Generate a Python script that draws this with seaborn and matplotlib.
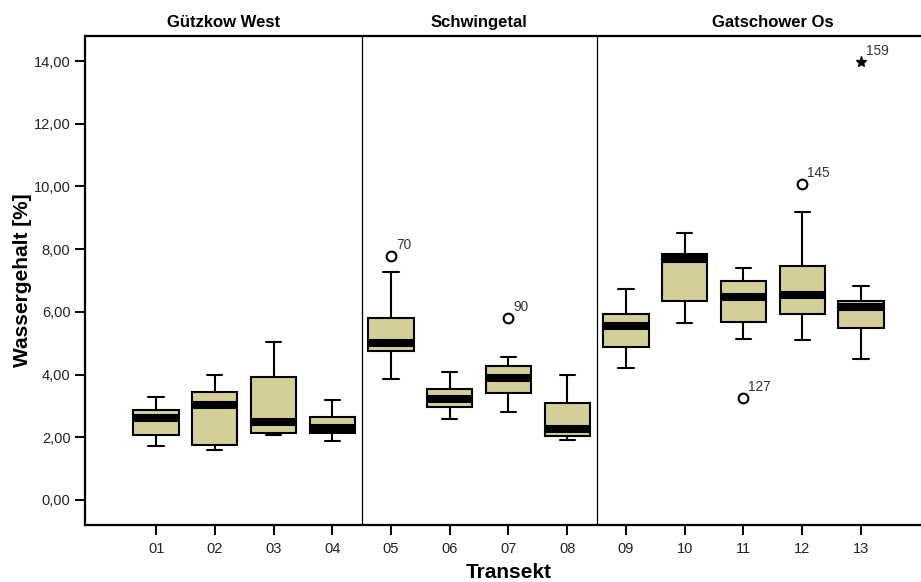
import numpy as np
import pandas as pd
import matplotlib
matplotlib.use("Agg")
import matplotlib.pyplot as plt
import seaborn as sns

# Five-number summaries of water content per transect
transekt = ["01", "02", "03", "04", "05", "06", "07", "08", "09", "10", "11", "12", "13"]
whisker_low = [1.71, 1.59, 2.06, 1.88, 3.86, 2.57, 2.81, 1.90, 4.20, 5.63, 5.14, 5.10, 4.51]
quartile_1 = [2.08, 1.75, 2.12, 2.14, 4.75, 2.98, 3.40, 2.04, 4.88, 6.36, 5.67, 5.94, 5.50]
median = [2.62, 3.02, 2.48, 2.31, 5.02, 3.21, 3.88, 2.26, 5.55, 7.69, 6.47, 6.54, 6.14]
quartile_3 = [2.87, 3.45, 3.92, 2.63, 5.81, 3.53, 4.26, 3.08, 5.94, 7.83, 6.98, 7.46, 6.36]
whisker_high = [3.27, 4.00, 5.05, 3.20, 7.28, 4.07, 4.55, 3.99, 6.72, 8.52, 7.39, 9.18, 6.82]

# Outlying cases (transect, value, case number, kind)
out_transekt = ["05", "07", "11", "12", "13"]
out_value = [7.79, 5.81, 3.26, 10.08, 13.96]
out_case = ["70", "90", "127", "145", "159"]
out_extreme = [False, False, False, False, True]

# Study areas and the transects they contain
gebiete = ["Gützkow West", "Schwingetal", "Gatschower Os"]
gebiet_transekte = [["01", "02", "03", "04"], ["05", "06", "07", "08"],
                    ["09", "10", "11", "12", "13"]]

y_ticks = [0, 2, 4, 6, 8, 10, 12, 14]

sns.set_style("ticks")
plt.rcParams["font.family"] = ["Liberation Sans", "DejaVu Sans"]
plt.rcParams["axes.labelcolor"] = "black"
plt.rcParams["text.color"] = "black"

rows = []
for i, t in enumerate(transekt):
    for v in (whisker_low[i], quartile_1[i], median[i], quartile_3[i], whisker_high[i]):
        rows.append({"Transekt": t, "Wassergehalt": v})
df = pd.DataFrame(rows)

fig = plt.figure(figsize=(9.21, 5.82), dpi=100)
# the plot frame runs past the right edge of the canvas
ax = fig.add_axes([85 / 921, 1 - 525 / 582, (949 - 85) / 921, (525 - 36) / 582])

box_color = "#d4cf99"
sns.boxplot(data=df, x="Transekt", y="Wassergehalt", order=transekt, ax=ax,
            color=box_color, saturation=1, linecolor="black", linewidth=1.5,
            width=0.77, whis=(0, 100), showfliers=False,
            medianprops={"linewidth": 5.8, "color": "black", "solid_capstyle": "butt"},
            capwidths=0.26)

# Outliers and extreme values with their case numbers
for t, v, c, ext in zip(out_transekt, out_value, out_case, out_extreme):
    xi = transekt.index(t)
    if ext:
        ax.plot(xi, v, marker="*", ms=8, color="black", mec="black", zorder=5)
    else:
        ax.plot(xi, v, marker="o", ms=7, mfc="white", mec="black", mew=1.5, zorder=5)
    ax.annotate(c, (xi, v), xytext=(3.5, 3), textcoords="offset points",
                ha="left", va="bottom", fontsize=9.8, color="#333333")

# Panel separators and headers
x_left = -1.21
bounds = [x_left]
for grp in gebiet_transekte[:-1]:
    b = transekt.index(grp[-1]) + 0.5
    bounds.append(b)
    ax.axvline(b, color="black", lw=0.9, zorder=1)
x_right = transekt.index(gebiet_transekte[-1][-1]) + 1.5
bounds.append(x_right)
for name, lo, hi in zip(gebiete, bounds[:-1], bounds[1:]):
    ax.annotate(name, ((lo + hi) / 2, 1), xycoords=("data", "axes fraction"),
                xytext=(0, 6.5), textcoords="offset points", ha="center",
                va="baseline", fontsize=12, fontweight="bold")

ax.set_xlim(x_left, x_right)
ax.set_ylim(-0.8, 14.8)
ax.set_yticks(y_ticks)
ax.set_yticklabels([f"{v:.2f}".replace(".", ",") for v in y_ticks])

for side in ["left", "bottom", "top"]:
    ax.spines[side].set_visible(True)
    ax.spines[side].set_linewidth(1.6)
    ax.spines[side].set_color("black")
ax.spines["right"].set_visible(False)

ax.tick_params(axis="both", direction="out", length=7.5, width=1.4, color="black",
               labelsize=10.5, labelcolor="#222222", pad=3)
ax.tick_params(axis="x", pad=5)

ax.set_ylabel("Wassergehalt [%]", fontsize=15, fontweight="bold")
ax.set_xlabel("Transekt", fontsize=15, fontweight="bold")
ax.yaxis.set_label_coords((23 - 85) / 864, 0.5)
ax.xaxis.set_label_coords((509 - 85) / 864, (525 - 573) / 489)
ax.xaxis.label.set_va("center")
ax.yaxis.label.set_va("center")

fig.savefig("out.png", dpi=100, facecolor="white")
